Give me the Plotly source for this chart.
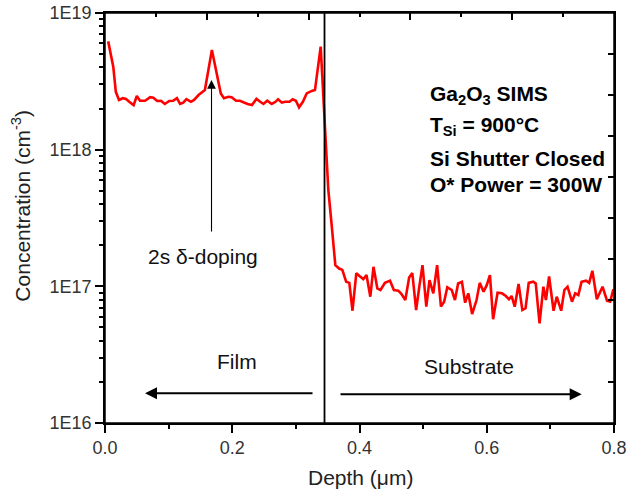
import plotly.graph_objects as go

# ---- data ----
depth_um = [
    0.005, 0.013, 0.017, 0.022, 0.028, 0.033, 0.038, 0.045, 0.050, 0.055,
    0.063, 0.071, 0.076, 0.082, 0.088, 0.094, 0.101, 0.107, 0.113, 0.118,
    0.123, 0.128, 0.135, 0.140, 0.147, 0.152, 0.157, 0.168, 0.176, 0.182,
    0.187, 0.194, 0.199, 0.206, 0.212, 0.217, 0.224, 0.231, 0.238, 0.244,
    0.249, 0.255, 0.262, 0.268, 0.272, 0.278, 0.283, 0.290, 0.295, 0.300,
    0.305, 0.311, 0.317, 0.325, 0.330, 0.339, 0.346, 0.351, 0.356, 0.362,
    0.368, 0.373, 0.379, 0.384, 0.389, 0.395, 0.400, 0.406, 0.411, 0.417,
    0.422, 0.428, 0.433, 0.440, 0.448, 0.454, 0.461, 0.466, 0.472, 0.478,
    0.483, 0.489, 0.494, 0.499, 0.505, 0.510, 0.516, 0.522, 0.528, 0.533,
    0.538, 0.545, 0.550, 0.555, 0.561, 0.566, 0.571, 0.577, 0.584, 0.589,
    0.595, 0.600, 0.605, 0.610, 0.617, 0.624, 0.630, 0.635, 0.639, 0.644,
    0.650, 0.656, 0.661, 0.666, 0.673, 0.677, 0.683, 0.689, 0.693, 0.698,
    0.705, 0.710, 0.717, 0.722, 0.727, 0.734, 0.739, 0.744, 0.749, 0.756,
    0.761, 0.766, 0.773, 0.782, 0.789, 0.794, 0.799,
]
si_concentration = [
    6.2e18, 4.05e18, 2.65e18, 2.31e18, 2.38e18, 2.35e18, 2.24e18, 2.12e18, 2.47e18, 2.28e18,
    2.28e18, 2.42e18, 2.40e18, 2.27e18, 2.28e18, 2.16e18, 2.27e18, 2.28e18, 2.38e18, 2.16e18,
    2.21e18, 2.34e18, 2.24e18, 2.31e18, 2.51e18, 2.61e18, 2.73e18, 5.36e18, 3.42e18, 2.58e18,
    2.38e18, 2.44e18, 2.42e18, 2.28e18, 2.28e18, 2.22e18, 2.16e18, 2.12e18, 2.35e18, 2.24e18,
    2.16e18, 2.28e18, 2.16e18, 2.24e18, 2.34e18, 2.21e18, 2.24e18, 2.24e18, 2.34e18, 2.28e18,
    2.04e18, 2.24e18, 2.58e18, 2.69e18, 2.73e18, 5.67e18, 1.39e18, 5.07e17, 2.89e17, 1.43e17,
    1.35e17, 1.32e17, 1.08e17, 1.06e17, 6.63e16, 1.25e17, 1.19e17, 1.13e17, 1.21e17, 8.40e16,
    1.39e17, 9.67e16, 9.40e16, 1.06e17, 1.10e17, 9.40e16, 9.29e16, 8.79e16, 7.94e16, 1.16e17,
    1.25e17, 6.71e16, 9.94e16, 1.43e17, 7.10e16, 1.11e17, 8.89e16, 1.43e17, 7.10e16, 7.72e16,
    9.84e16, 9.40e16, 7.94e16, 1.05e17, 1.08e17, 7.59e16, 8.89e16, 6.27e16, 7.94e16, 1.06e17,
    9.14e16, 1.02e17, 1.21e17, 5.74e16, 8.98e16, 8.89e16, 8.50e16, 8.04e16, 8.50e16, 7.10e16,
    1.04e17, 6.71e16, 6.91e16, 1.06e17, 1.08e17, 1.05e17, 5.36e16, 9.94e16, 7.94e16, 1.18e17,
    6.63e16, 8.40e16, 6.63e16, 9.40e16, 9.94e16, 7.72e16, 8.89e16, 8.64e16, 1.08e17, 1.10e17,
    1.06e17, 1.30e17, 8.04e16, 9.94e16, 7.85e16, 7.72e16, 9.51e16,
]

x_tick_vals = [0.0, 0.2, 0.4, 0.6, 0.8]
x_tick_text = ["0.0", "0.2", "0.4", "0.6", "0.8"]
x_minor_vals = [0.1, 0.3, 0.5, 0.7]
y_tick_vals = [1e16, 1e17, 1e18, 1e19]
y_tick_text = ["1E16", "1E17", "1E18", "1E19"]
y_minor_vals = [m * 10.0 ** e for e in (16, 17, 18) for m in range(2, 10)]
top_major_vals = [0.16, 0.32, 0.48, 0.64]
top_minor_vals = [0.08, 0.24, 0.40, 0.56, 0.72]
right_tick_vals = [10 ** (16 + 0.3 * k) for k in range(1, 10)]
interface_depth = 0.345

X_RANGE = [0, 0.8]
Y_RANGE_LOG = [16, 19]

FONT = "Arial, 'Liberation Sans', sans-serif"

fig = go.Figure()
fig.add_trace(go.Scatter(
    x=depth_um, y=si_concentration, mode="lines",
    line=dict(color="#ff0000", width=2.6), showlegend=False,
    hoverinfo="skip",
))
# invisible traces to make overlay axes render
fig.add_trace(go.Scatter(x=[None], y=[None], xaxis="x2", yaxis="y", showlegend=False))
fig.add_trace(go.Scatter(x=[None], y=[None], xaxis="x", yaxis="y2", showlegend=False))

axis_common = dict(showgrid=False, zeroline=False, linecolor="black", linewidth=1.5,
                   tickcolor="black", tickwidth=1.5, automargin=False)

fig.update_layout(
    template="none",
    width=627, height=494,
    margin=dict(l=105, r=13, t=13, b=71),
    paper_bgcolor="white", plot_bgcolor="white",
    showlegend=False,
    font=dict(family=FONT, color="#222", size=18),
    xaxis=dict(range=X_RANGE, tickmode="array", tickvals=x_tick_vals, ticktext=x_tick_text,
               ticks="outside", ticklen=8, showline=True, mirror=True,
               ticklabeloverflow="allow",
               tickfont=dict(size=18, color="#333"),
               minor=dict(tickmode="array", tickvals=x_minor_vals, ticks="outside",
                          ticklen=4, tickwidth=1.5, tickcolor="black", showgrid=False),
               **axis_common),
    yaxis=dict(type="log", range=Y_RANGE_LOG, tickmode="array", tickvals=y_tick_vals,
               ticktext=y_tick_text, ticks="outside", ticklen=8, showline=True, mirror=True,
               ticklabeloverflow="allow",
               tickfont=dict(size=18, color="#333"),
               minor=dict(tickmode="array", tickvals=y_minor_vals, ticks="outside",
                          ticklen=4, tickwidth=1.5, tickcolor="black", showgrid=False),
               **axis_common),
    xaxis2=dict(range=X_RANGE, overlaying="x", side="top", anchor="y",
                tickmode="array", tickvals=top_major_vals, ticks="inside", ticklen=7,
                showticklabels=False, showline=False,
                minor=dict(tickmode="array", tickvals=top_minor_vals, ticks="inside",
                           ticklen=4, tickwidth=1.5, tickcolor="black", showgrid=False),
                **axis_common),
    yaxis2=dict(type="log", range=Y_RANGE_LOG, overlaying="y", side="right", anchor="x",
                tickmode="array", tickvals=right_tick_vals, ticks="inside", ticklen=6,
                showticklabels=False, showline=False, **axis_common),
)

# plot frame (guarantees the top/right border)
fig.add_shape(type="rect", xref="paper", yref="paper", x0=0, x1=1, y0=0, y1=1,
              line=dict(color="black", width=1.5), fillcolor="rgba(0,0,0,0)", layer="above")
# interface line
fig.add_shape(type="line", xref="x", yref="paper", x0=interface_depth, x1=interface_depth,
              y0=0, y1=1, line=dict(color="black", width=1.8))

annotations = []
# axis titles
annotations.append(dict(text="Concentration (cm<sup>-3</sup>)", xref="paper", yref="paper",
                        x=-0.164, y=0.529, textangle=-90, showarrow=False,
                        font=dict(size=21, color="#222"), xanchor="center", yanchor="middle"))
annotations.append(dict(text="Depth (\u03bcm)", xref="paper", yref="paper",
                        x=0.501, y=-0.134, showarrow=False,
                        font=dict(size=21, color="#222"), xanchor="center", yanchor="middle"))
# info text
info_lines = ["Ga<sub>2</sub>O<sub>3</sub> SIMS", "T<sub>Si</sub> = 900\u00b0C",
              "Si Shutter Closed", "O* Power = 300W"]
info_y = [0.80, 0.7244, 0.6463, 0.5805]
for t, yy in zip(info_lines, info_y):
    annotations.append(dict(text="<b>" + t + "</b>", xref="paper", yref="paper", x=0.6346, y=yy,
                            xanchor="left", yanchor="middle", showarrow=False,
                            font=dict(size=21, color="black")))
annotations.append(dict(text="2s \u03b4-doping", xref="paper", yref="paper", x=0.1925, y=0.405,
                        xanchor="center", yanchor="middle", showarrow=False,
                        font=dict(size=21, color="#111")))
annotations.append(dict(text="Film", xref="paper", yref="paper", x=0.2603, y=0.1488,
                        xanchor="center", yanchor="middle", showarrow=False,
                        font=dict(size=21, color="#111")))
annotations.append(dict(text="Substrate", xref="paper", yref="paper", x=0.7145, y=0.1366,
                        xanchor="center", yanchor="middle", showarrow=False,
                        font=dict(size=21, color="#111")))
# arrows
annotations.append(dict(text="", x=0.0629, y=16.217, ax=0.3285, ay=16.217,
                        xref="x", yref="y", axref="x", ayref="y", showarrow=True,
                        arrowhead=2, arrowsize=1.2, arrowwidth=2, arrowcolor="black"))
annotations.append(dict(text="", x=0.7492, y=16.21, ax=0.3678, ay=16.21,
                        xref="x", yref="y", axref="x", ayref="y", showarrow=True,
                        arrowhead=2, arrowsize=1.2, arrowwidth=2, arrowcolor="black"))
annotations.append(dict(text="", x=0.1674, y=18.51, ax=0.1674, ay=17.39,
                        xref="x", yref="y", axref="x", ayref="y", showarrow=True,
                        arrowhead=2, arrowsize=1.6, arrowwidth=1.1, arrowcolor="black"))
fig.update_layout(annotations=annotations)

# remove the default page margin so the 627x494 figure fills the window exactly
fig.write_html("out.html",
               config={"displayModeBar": False},
               post_script="document.body.style.margin='0';document.body.style.overflow='hidden';")
